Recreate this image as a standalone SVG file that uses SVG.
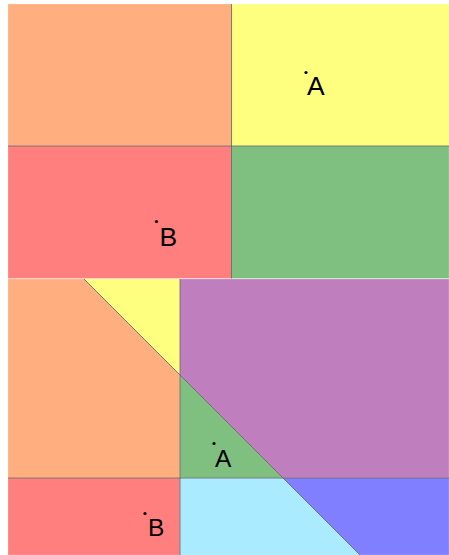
<svg xmlns="http://www.w3.org/2000/svg" width="449" height="555" viewBox="0 0 449 555">
<style>
.r{stroke:#ffffff;stroke-opacity:0.35;stroke-width:0.6}
.ln{stroke:#555;stroke-opacity:0.75;stroke-width:1;fill:none}
.lbl{font-family:"Liberation Sans",Arial,sans-serif;fill:#000}
.dot{fill:#000}
</style>
<rect width="449" height="555" fill="#fff"/>
<g id="top">
  <g id="t-orange"><rect class="r" x="8" y="4" width="223.5" height="142" fill="#FFAE7F"/></g>
  <g id="t-yellow"><rect class="r" x="231.5" y="4" width="217.5" height="142" fill="#FFFF7F"/></g>
  <g id="t-red"><rect class="r" x="8" y="146" width="223.5" height="132.5" fill="#FF7F7F"/></g>
  <g id="t-green"><rect class="r" x="231.5" y="146" width="217.5" height="132.5" fill="#7FBF7F"/></g>
</g>
<g id="bottom">
  <g id="b-orange"><polygon class="r" points="8,279 84,279 180,375 180,478 8,478" fill="#FFAE7F"/></g>
  <g id="b-yellow"><polygon class="r" points="84,279 180,279 180,375" fill="#FFFF7F"/></g>
  <g id="b-purple"><polygon class="r" points="180,279 449,279 449,478 283,478 180,375" fill="#BF7FBF"/></g>
  <g id="b-green"><polygon class="r" points="180,375 283,478 180,478" fill="#7FBF7F"/></g>
  <g id="b-red"><polygon class="r" points="8,478 180,478 180,555 8,555" fill="#FF7F7F"/></g>
  <g id="b-cyan"><polygon class="r" points="180,478 283,478 360,555 180,555" fill="#AAEBFF"/></g>
  <g id="b-blue"><polygon class="r" points="283,478 449,478 449,555 360,555" fill="#7F7FFF"/></g>
</g>
<g id="lines">
  <line class="ln" x1="231.5" y1="4" x2="231.5" y2="278.5"/>
  <line class="ln" x1="8" y1="146" x2="449" y2="146"/>
  <line class="ln" x1="84" y1="279" x2="360" y2="555"/>
  <line class="ln" x1="180" y1="279" x2="180" y2="555"/>
  <line class="ln" x1="8" y1="478" x2="449" y2="478"/>
</g>
<g id="labels">
  <circle class="dot" cx="306" cy="72.5" r="1.6"/>
  <text class="lbl" x="307" y="94.5" font-size="26.5">A</text>
  <circle class="dot" cx="156.5" cy="221.5" r="1.6"/>
  <text class="lbl" x="159.5" y="246" font-size="26.5">B</text>
  <circle class="dot" cx="214" cy="443.5" r="1.6"/>
  <text class="lbl" x="215" y="466.5" font-size="24.5">A</text>
  <circle class="dot" cx="145" cy="513.5" r="1.6"/>
  <text class="lbl" x="148" y="536" font-size="24.5">B</text>
</g>
</svg>
